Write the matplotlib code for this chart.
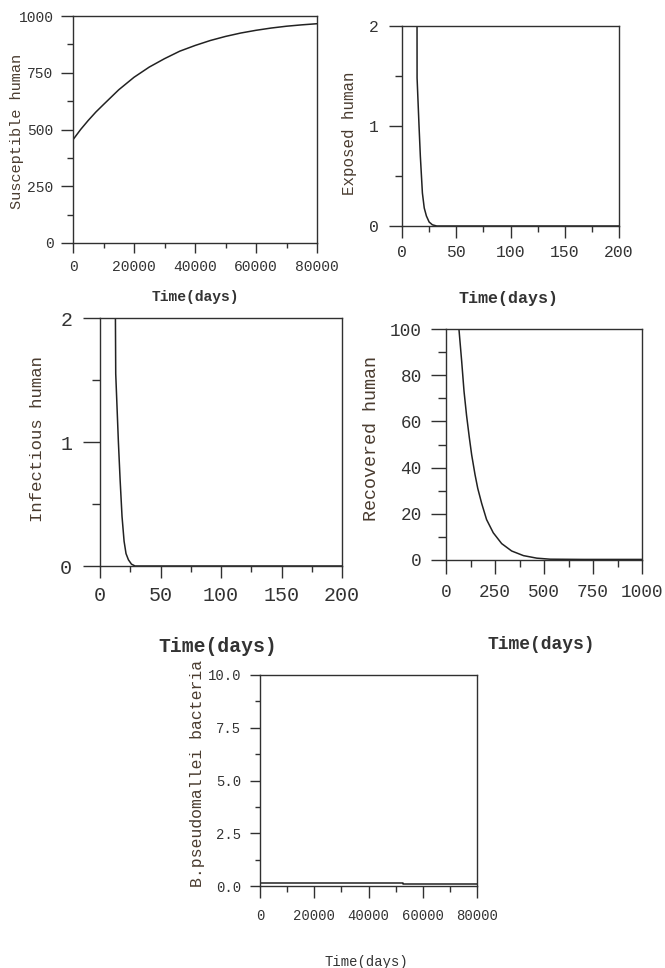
import numpy as np
import matplotlib
matplotlib.use("Agg")
import matplotlib.pyplot as plt
from matplotlib.ticker import MultipleLocator

plt.rcParams['font.family'] = ['Liberation Mono', 'DejaVu Sans Mono']

# Susceptible human (long run)
t_s = [0, 2500, 5000, 7500, 10000, 15000, 20000, 25000, 30000, 35000, 40000, 45000,
       50000, 55000, 60000, 65000, 70000, 75000, 80000]
s_h = [455, 500, 540, 577, 610, 675, 730, 775, 812, 845, 870, 892,
       910, 925, 937, 947, 955, 961, 966]

# Exposed human
t_e = [13.8, 13.9, 15.7, 16.9, 18.8, 20.5, 22.5, 25, 28, 32, 200]
e_h = [2.6, 1.48, 1.0, 0.7, 0.33, 0.18, 0.1, 0.04, 0.012, 0, 0]

# Infectious human
t_i = [12.4, 13.0, 15.2, 16.6, 18.2, 19.9, 21.5, 23.5, 26, 29, 200]
i_h = [2.6, 1.55, 1.0, 0.7, 0.4, 0.2, 0.1, 0.05, 0.015, 0, 0]

# Recovered human
t_r = [60, 66, 80, 92, 105, 119, 131, 148, 162, 182, 207, 241, 284,
       335, 395, 463, 531, 700, 1000]
r_h = [104, 100, 86, 73, 62.5, 53, 45.5, 37, 31, 24.5, 17.5, 11.8, 7.1,
       3.9, 1.9, 0.8, 0.35, 0.25, 0.25]

# B. pseudomallei bacteria
t_b = [0, 52700, 52700, 80000]
b_p = [0.16, 0.16, 0.11, 0.11]

W, H = 665, 968
txt = '#333333'
ink = '#222222'

fig = plt.figure(figsize=(W / 100, H / 100), dpi=100)


def make_axes(left, right, top, bottom):
    return fig.add_axes([left / W, 1 - bottom / H, (right - left) / W, (bottom - top) / H])


def style(ax, xlim, ylim, xmaj, xmin, ymaj, ymin, fs, ylen, xlen, ypad, xpad):
    ax.set_xlim(*xlim)
    ax.set_ylim(*ylim)
    ax.xaxis.set_major_locator(MultipleLocator(xmaj))
    ax.xaxis.set_minor_locator(MultipleLocator(xmin))
    ax.yaxis.set_major_locator(MultipleLocator(ymaj))
    ax.yaxis.set_minor_locator(MultipleLocator(ymin))
    for sp in ax.spines.values():
        sp.set_color('#303030')
        sp.set_linewidth(1.0)
    ax.tick_params(axis='y', which='major', direction='out', length=ylen, width=1.0,
                   color='#303030', labelsize=fs, labelcolor=txt, pad=ypad)
    ax.tick_params(axis='y', which='minor', direction='out', length=ylen / 2, width=1.0,
                   color='#303030')
    ax.tick_params(axis='x', which='major', direction='out', length=xlen, width=1.0,
                   color='#303030', labelsize=fs, labelcolor=txt, pad=xpad)
    ax.tick_params(axis='x', which='minor', direction='out', length=xlen / 2, width=1.0,
                   color='#303030')


def labels(ax, xl, xx, xy, xfs, yl, yx, yy, yfs, bold=True):
    ax.text(xx, xy, xl, transform=ax.transAxes, ha='center', va='center',
            fontsize=xfs, color=txt, fontweight='bold' if bold else 'normal')
    ax.text(yx, yy, yl, transform=ax.transAxes, ha='center', va='center',
            rotation=90, fontsize=yfs, color='#4a3c30')


# panel 1
ax1 = make_axes(73, 317, 16, 243)
ax1.plot(t_s, s_h, color=ink, lw=1.1)
style(ax1, (0, 80000), (0, 1000), 20000, 10000, 250, 125, 10.5, 9, 7, 5, 5)
labels(ax1, 'Time(days)', 0.5, -0.238, 10.5, 'Susceptible human', -0.23, 0.49, 11)

# panel 2
ax2 = make_axes(402, 619, 26, 226)
ax2.plot(t_e, e_h, color=ink, lw=1.1)
style(ax2, (0, 200), (0, 2), 50, 25, 1, 0.5, 11.8, 9.5, 8.5, 7, 5)
labels(ax2, 'Time(days)', 0.49, -0.36, 12, 'Exposed human', -0.244, 0.465, 11.4)

# panel 3
ax3 = make_axes(100, 342, 318, 566)
ax3.plot(t_i, i_h, color=ink, lw=1.1)
style(ax3, (0, 200), (0, 2), 50, 25, 1, 0.5, 14.4, 12, 8.5, 8, 6)
labels(ax3, 'Time(days)', 0.486, -0.323, 14.2, 'Infectious human', -0.26, 0.512, 12.4)

# panel 4
ax4 = make_axes(446, 642, 329, 560)
ax4.plot(t_r, r_h, color=ink, lw=1.1)
style(ax4, (0, 1000), (0, 100), 250, 125, 20, 10, 12.7, 11, 10, 6.5, 7)
labels(ax4, 'Time(days)', 0.485, -0.364, 13, 'Recovered human', -0.378, 0.524, 13.2)

# panel 5
ax5 = make_axes(260, 477, 675, 886)
ax5.plot(t_b, b_p, color=ink, lw=1.1)
style(ax5, (0, 80000), (0, 10), 20000, 10000, 2.5, 1.25, 10, 7.5, 8.5, 6, 8)
ax5.yaxis.set_major_formatter(matplotlib.ticker.FormatStrFormatter('%.1f'))
labels(ax5, 'Time(days)', 0.49, -0.36, 10, 'B.pseudomallei bacteria', -0.286, 0.535, 11.9,
       bold=False)

fig.savefig('out.png', dpi=100, facecolor='white')
